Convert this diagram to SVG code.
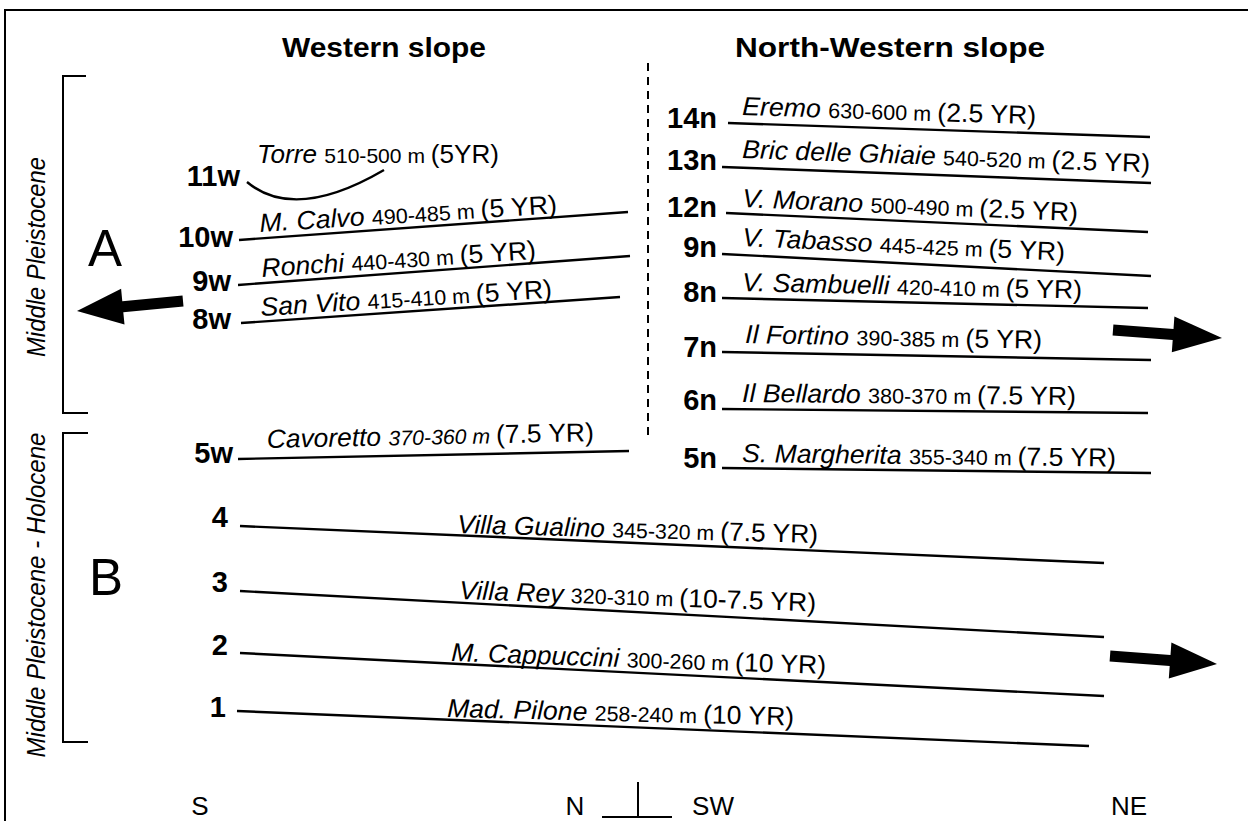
<svg xmlns="http://www.w3.org/2000/svg" width="1248" height="821" viewBox="0 0 1248 821">
<style>
text{font-family:"Liberation Sans",Arial,Helvetica,sans-serif;fill:#000}
.ttl{font-weight:bold;font-size:28px}
.lbl{font-weight:bold;font-size:29px}
.nm{font-style:italic;font-size:26px}
.num{font-size:21px}
.yr{font-size:26px}
.ln{stroke:#000;stroke-width:2.4;fill:none}
.br{stroke:#000;stroke-width:2;fill:none}
.big{font-size:51px}
.side{font-style:italic;font-size:25px}
.dir{font-size:26px}
</style>
<rect x="0" y="0" width="1248" height="821" fill="#fff"/>
<path d="M5,821 V10 H1248" class="br" stroke-width="1.5"/>

<g id="titles">
<text class="ttl" x="384" y="57" text-anchor="middle" textLength="204" lengthAdjust="spacingAndGlyphs">Western slope</text>
<text class="ttl" x="890" y="57" text-anchor="middle" textLength="310" lengthAdjust="spacingAndGlyphs">North-Western slope</text>
</g>

<g id="divider">
<line x1="648" y1="63" x2="648" y2="438" stroke="#000" stroke-width="2" stroke-dasharray="8 6"/>
</g>

<g id="groupA">
<path d="M86,76 H63 V413 H88" class="br"/>
<text class="side" transform="rotate(-90 45 257)" x="45" y="257" text-anchor="middle" textLength="200" lengthAdjust="spacingAndGlyphs">Middle Pleistocene</text>
<text class="big" x="88" y="266">A</text>
</g>

<g id="groupB">
<path d="M88,433 H63 V742 H88" class="br"/>
<text class="side" transform="rotate(-90 45 595)" x="45" y="595" text-anchor="middle" textLength="325" lengthAdjust="spacingAndGlyphs">Middle Pleistocene - Holocene</text>
<text class="big" x="89" y="595">B</text>
</g>

<g id="t11w">
<text class="lbl" x="240" y="186" text-anchor="end">11w</text>
<path d="M247,182 Q295,222 384,170" class="ln"/>
<text x="257" y="163" textLength="242" lengthAdjust="spacingAndGlyphs"><tspan class="nm">Torre </tspan><tspan class="num">510-500 m </tspan><tspan class="yr">(5YR)</tspan></text>
</g>
<g id="t10w">
<text class="lbl" x="233" y="247" text-anchor="end">10w</text>
<line x1="239" y1="240" x2="628" y2="212" class="ln"/>
<text transform="rotate(-3.6 260 232)" x="260" y="232" textLength="298" lengthAdjust="spacingAndGlyphs"><tspan class="nm">M. Calvo </tspan><tspan class="num">490-485 m </tspan><tspan class="yr">(5 YR)</tspan></text>
</g>
<g id="t9w">
<text class="lbl" x="231" y="291" text-anchor="end">9w</text>
<line x1="238" y1="285" x2="630" y2="256" class="ln"/>
<text transform="rotate(-3.8 262 277)" x="262" y="277" textLength="275" lengthAdjust="spacingAndGlyphs"><tspan class="nm">Ronchi </tspan><tspan class="num">440-430 m </tspan><tspan class="yr">(5 YR)</tspan></text>
</g>
<g id="t8w">
<text class="lbl" x="231" y="329" text-anchor="end">8w</text>
<line x1="241" y1="323" x2="620" y2="297" class="ln"/>
<text transform="rotate(-3.6 261 316)" x="261" y="316" textLength="292" lengthAdjust="spacingAndGlyphs"><tspan class="nm">San Vito </tspan><tspan class="num">415-410 m </tspan><tspan class="yr">(5 YR)</tspan></text>
</g>
<g id="t5w">
<text class="lbl" x="233" y="463" text-anchor="end">5w</text>
<line x1="238" y1="459" x2="629" y2="451" class="ln"/>
<text transform="rotate(-1.2 267 448)" x="267" y="448" textLength="327" lengthAdjust="spacingAndGlyphs"><tspan class="nm">Cavoretto </tspan><tspan class="num" font-style="italic">370-360 m </tspan><tspan class="yr">(7.5 YR)</tspan></text>
</g>

<g id="t14n">
<text class="lbl" x="717" y="128" text-anchor="end">14n</text>
<line x1="728" y1="123" x2="1150" y2="137" class="ln"/>
<text transform="rotate(1.8 742 115)" x="742" y="115" textLength="294" lengthAdjust="spacingAndGlyphs"><tspan class="nm">Eremo </tspan><tspan class="num">630-600 m </tspan><tspan class="yr">(2.5 YR)</tspan></text>
</g>
<g id="t13n">
<text class="lbl" x="717" y="170" text-anchor="end">13n</text>
<line x1="722" y1="167" x2="1151" y2="183" class="ln"/>
<text transform="rotate(2 742 158)" x="742" y="158" textLength="408" lengthAdjust="spacingAndGlyphs"><tspan class="nm">Bric delle Ghiaie </tspan><tspan class="num">540-520 m </tspan><tspan class="yr">(2.5 YR)</tspan></text>
</g>
<g id="t12n">
<text class="lbl" x="717" y="217" text-anchor="end">12n</text>
<line x1="726" y1="213" x2="1148" y2="232" class="ln"/>
<text transform="rotate(2.4 742 207)" x="742" y="207" textLength="336" lengthAdjust="spacingAndGlyphs"><tspan class="nm">V. Morano </tspan><tspan class="num">500-490 m </tspan><tspan class="yr">(2.5 YR)</tspan></text>
</g>
<g id="t9n">
<text class="lbl" x="717" y="257" text-anchor="end">9n</text>
<line x1="722" y1="254" x2="1151" y2="276" class="ln"/>
<text transform="rotate(2.6 742 246)" x="742" y="246" textLength="323" lengthAdjust="spacingAndGlyphs"><tspan class="nm">V. Tabasso </tspan><tspan class="num">445-425 m </tspan><tspan class="yr">(5 YR)</tspan></text>
</g>
<g id="t8n">
<text class="lbl" x="717" y="302" text-anchor="end">8n</text>
<line x1="722" y1="298" x2="1148" y2="308" class="ln"/>
<text transform="rotate(1.3 742 291)" x="742" y="291" textLength="340" lengthAdjust="spacingAndGlyphs"><tspan class="nm">V. Sambuelli </tspan><tspan class="num">420-410 m </tspan><tspan class="yr">(5 YR)</tspan></text>
</g>
<g id="t7n">
<text class="lbl" x="717" y="357" text-anchor="end">7n</text>
<line x1="722" y1="352" x2="1151" y2="360" class="ln"/>
<text transform="rotate(1.1 745 343)" x="745" y="343" textLength="297" lengthAdjust="spacingAndGlyphs"><tspan class="nm">Il Fortino </tspan><tspan class="num">390-385 m </tspan><tspan class="yr">(5 YR)</tspan></text>
</g>
<g id="t6n">
<text class="lbl" x="717" y="410" text-anchor="end">6n</text>
<line x1="722" y1="409" x2="1148" y2="413" class="ln"/>
<text transform="rotate(0.5 742 402)" x="742" y="402" textLength="334" lengthAdjust="spacingAndGlyphs"><tspan class="nm">Il Bellardo </tspan><tspan class="num">380-370 m </tspan><tspan class="yr">(7.5 YR)</tspan></text>
</g>
<g id="t5n">
<text class="lbl" x="717" y="468" text-anchor="end">5n</text>
<line x1="722" y1="468" x2="1151" y2="473" class="ln"/>
<text transform="rotate(0.7 742 462)" x="742" y="462" textLength="374" lengthAdjust="spacingAndGlyphs"><tspan class="nm">S. Margherita </tspan><tspan class="num">355-340 m </tspan><tspan class="yr">(7.5 YR)</tspan></text>
</g>

<g id="t4">
<text class="lbl" x="228" y="527" text-anchor="end">4</text>
<line x1="240" y1="526" x2="1104" y2="563" class="ln"/>
<text transform="rotate(1.6 457 533)" x="457" y="533" textLength="361" lengthAdjust="spacingAndGlyphs"><tspan class="nm">Villa Gualino </tspan><tspan class="num">345-320 m </tspan><tspan class="yr">(7.5 YR)</tspan></text>
</g>
<g id="t3">
<text class="lbl" x="228" y="592" text-anchor="end">3</text>
<line x1="240" y1="591" x2="1104" y2="637" class="ln"/>
<text transform="rotate(2 459 599)" x="459" y="599" textLength="357" lengthAdjust="spacingAndGlyphs"><tspan class="nm">Villa Rey </tspan><tspan class="num">320-310 m </tspan><tspan class="yr">(10-7.5 YR)</tspan></text>
</g>
<g id="t2">
<text class="lbl" x="228" y="655" text-anchor="end">2</text>
<line x1="240" y1="653" x2="1104" y2="696" class="ln"/>
<text transform="rotate(2 451 661)" x="451" y="661" textLength="375" lengthAdjust="spacingAndGlyphs"><tspan class="nm">M. Cappuccini </tspan><tspan class="num">300-260 m </tspan><tspan class="yr">(10 YR)</tspan></text>
</g>
<g id="t1">
<text class="lbl" x="226" y="717" text-anchor="end">1</text>
<line x1="237" y1="711" x2="1089" y2="746" class="ln"/>
<text transform="rotate(1.4 447 717)" x="447" y="717" textLength="347" lengthAdjust="spacingAndGlyphs"><tspan class="nm">Mad. Pilone </tspan><tspan class="num">258-240 m </tspan><tspan class="yr">(10 YR)</tspan></text>
</g>

<g id="connectors">
<polygon points="77,311 121.1,288.8 122.3,301.2 182.5,295.5 183.5,306.5 123.3,312.2 124.5,324.6" fill="#000"/>
<polygon points="1113.4,324.5 1173.5,328.9 1174.4,316.5 1222,338 1171.8,352.3 1172.7,339.9 1112.6,335.5" fill="#000"/>
<polygon points="1110.4,650.5 1170.5,655 1171.4,642.6 1217,664 1168.8,678.4 1169.7,666 1109.6,661.5" fill="#000"/>
</g>

<g id="orientation">
<text class="dir" x="200" y="815" text-anchor="middle">S</text>
<text class="dir" x="575" y="815" text-anchor="middle">N</text>
<path d="M602,817 H672 M638,782 V817" class="br"/>
<text class="dir" x="713" y="815" text-anchor="middle">SW</text>
<text class="dir" x="1129" y="815" text-anchor="middle">NE</text>
</g>
</svg>
